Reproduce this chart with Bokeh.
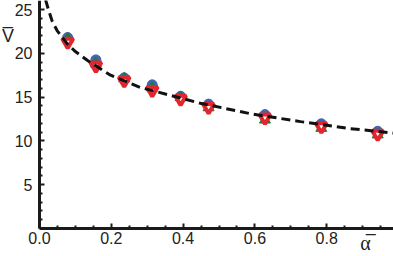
from bokeh.plotting import figure
from bokeh.models import FixedTicker, PrintfTickFormatter, Label, Range1d
from bokeh.embed import file_html
from bokeh.resources import INLINE

# data points (alpha-bar, V-bar) for three series
alpha = [0.0785, 0.157, 0.236, 0.314, 0.393, 0.471, 0.628, 0.785, 0.942]
v_blue = [21.8, 19.25, 17.2, 16.4, 15.1, 14.2, 13.0, 11.95, 11.1]
v_green = [21.65, 18.8, 17.1, 16.05, 14.95, 13.8, 12.4, 11.45, 10.7]
v_red = [21.3, 18.6, 16.9, 15.8, 14.8, 13.85, 12.65, 11.65, 10.8]

# dashed theory curve
curve_x = [0.017, 0.024, 0.035, 0.049, 0.077, 0.1, 0.133, 0.198, 0.281, 0.365,
           0.448, 0.588, 0.727, 0.866, 0.986]
curve_y = [26.1, 25.1, 23.7, 22.6, 21.1, 20.2, 19.2, 17.5, 16.1, 15.2,
           14.3, 13.1, 12.2, 11.4, 10.9]

x_major = [0.0, 0.2, 0.4, 0.6, 0.8]
x_minor = [0.05, 0.1, 0.15, 0.25, 0.3, 0.35, 0.45, 0.5, 0.55, 0.65, 0.7, 0.75,
           0.85, 0.9, 0.95]
y_major = [5, 10, 15, 20, 25]
y_minor = [i for i in range(1, 26) if i % 5 != 0]

X_START, X_END = -0.1086, 0.986
Y_START, Y_END = -3.2, 26.03

FONT = "Liberation Sans"

p = figure(width=393, height=256, output_backend="svg", toolbar_location=None,
           x_range=Range1d(X_START, X_END), y_range=Range1d(Y_START, Y_END),
           min_border_left=0, min_border_right=0, min_border_top=0,
           min_border_bottom=0)
p.outline_line_color = None
p.xgrid.visible = False
p.ygrid.visible = False
p.background_fill_color = "white"
p.border_fill_color = "white"

for ax in (p.xaxis[0], p.yaxis[0]):
    ax.axis_line_width = 3
    ax.axis_line_color = "#1a1a1a"
    ax.major_tick_in = 5
    ax.major_tick_out = 0
    ax.minor_tick_in = 3
    ax.minor_tick_out = 0
    ax.major_tick_line_width = 2
    ax.minor_tick_line_width = 2
    ax.major_tick_line_color = "#1a1a1a"
    ax.minor_tick_line_color = "#1a1a1a"
    ax.major_label_text_font = FONT
    ax.major_label_text_font_size = "16px"
    ax.major_label_text_color = "#222222"

p.xaxis[0].fixed_location = 0
p.xaxis[0].bounds = (0, X_END)
p.xaxis[0].ticker = FixedTicker(ticks=x_major, minor_ticks=x_minor)
p.xaxis[0].formatter = PrintfTickFormatter(format="%.1f")
p.xaxis[0].major_label_standoff = 4
p.yaxis[0].fixed_location = 0
p.yaxis[0].bounds = (0, Y_END)
p.yaxis[0].ticker = FixedTicker(ticks=y_major, minor_ticks=y_minor)
p.yaxis[0].major_label_standoff = 7

p.scatter(alpha, v_blue, marker="circle", size=10, fill_color="#3f66b3",
          line_color="#3f66b3")
p.scatter(alpha, v_green, marker="triangle", size=11, fill_color="#1f7a35",
          line_color="#1f7a35")
p.scatter(alpha, v_red, marker="inverted_triangle", size=11, fill_color="white",
          line_color="#e3262d", line_width=4)

p.line(curve_x, curve_y, line_color="#111111", line_width=3, line_dash="9 5")

p.add_layout(Label(x=-0.088, y=22.0, text="V\u0305", text_font=FONT,
                   text_font_size="18px", text_align="center",
                   text_baseline="middle", text_color="#222222"))
p.add_layout(Label(x=0.908, y=-1.65, text="\u03b1\u0305", text_font="Liberation Serif",
                   text_font_size="20px", text_align="center",
                   text_baseline="middle", text_color="#222222"))

open("out.html", "w").write(file_html(p, INLINE))
